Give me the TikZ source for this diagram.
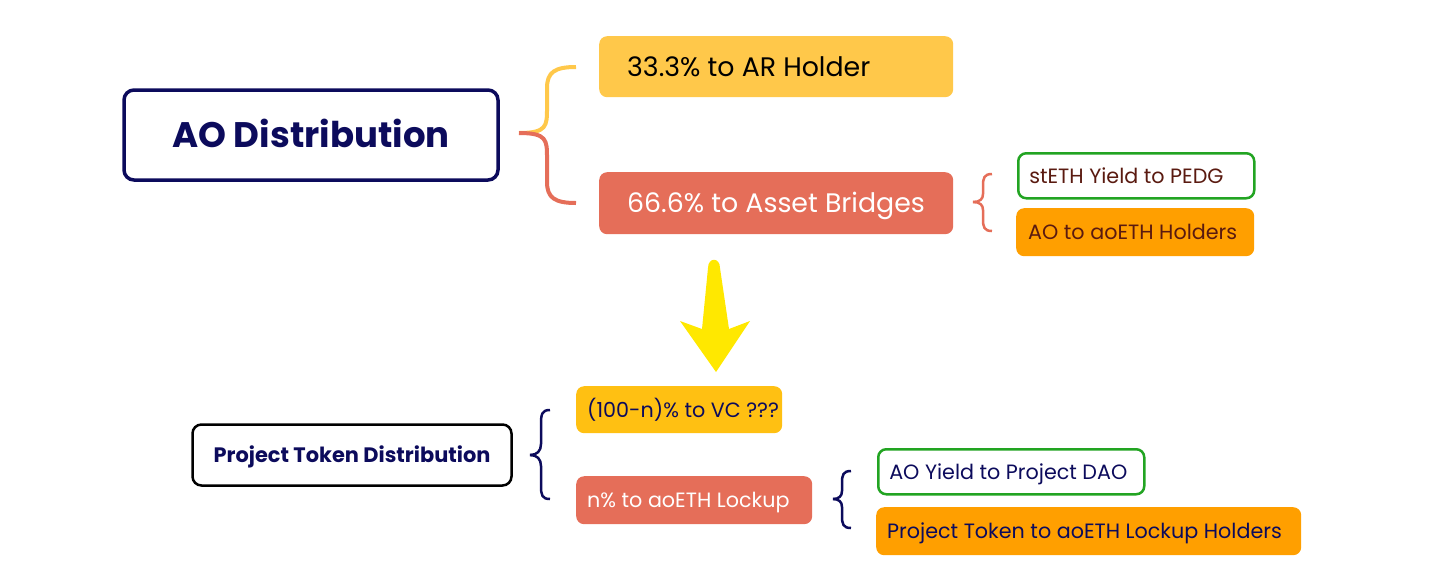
\documentclass[tikz,border=0pt]{standalone}
\usepackage{fontspec}
\setmainfont{Poppins}
\definecolor{navy}{HTML}{0C0B5C}
\definecolor{ylw}{HTML}{FFC84A}
\definecolor{ylw2}{HTML}{FFC012}
\definecolor{salmon}{HTML}{E56E59}
\definecolor{orng}{HTML}{FF9F00}
\definecolor{grn}{HTML}{22A422}
\definecolor{brwn}{HTML}{5A1A10}
\definecolor{arrowy}{HTML}{FFE800}
\tikzset{
  box/.style={rounded corners=8pt, inner ysep=0pt, anchor=north west, text depth=0pt},
  bigbox/.style={box, font=\fontsize{26.8}{30}\selectfont, text height=19.3pt},
  smallbox/.style={box, font=\fontsize{20.7}{24}\selectfont, text height=14.9pt},
}
\newcommand{\bx}[8]{% name, style, x1,y1,x2,y2, pad, text
  \pgfmathsetmacro{\bh}{#6-#4}\pgfmathsetmacro{\tw}{#5-#3-2*#7}
  \node[#2, minimum height=\bh pt, inner xsep=#7pt] (#1) at (#3,#4) {\makebox[\tw pt][l]{#8}};}
\begin{document}
\begin{tikzpicture}[x=1pt,y=-1pt]
\useasboundingbox (0,0) rectangle (1440,587);
% main box
\node[draw=navy, line width=3.5pt, rounded corners=10pt, minimum width=374pt, minimum height=90pt,
  font=\fontsize{35.5}{40}\selectfont\bfseries, text=navy, text height=25.6pt, text depth=0pt] (ao) at (311,135) {AO Distribution};
% big brace
\draw[ylw, line width=4pt] (519,133) .. controls (547,133) and (547,126) .. (547,108) -- (547,88) .. controls (547,72) and (555,67) .. (576,67);
\draw[salmon, line width=4pt] (519,133) .. controls (547,133) and (547,140) .. (547,158) -- (547,182) .. controls (547,198) and (555,203) .. (576,203);
% top boxes
\bx{ar}{bigbox, fill=ylw, text=black}{599}{36}{953}{97}{28}{33.3\% to AR Holder}
\bx{ab}{bigbox, fill=salmon, text=white}{599}{172}{953}{234}{28}{66.6\% to Asset Bridges}
% small brace right
\draw[salmon, line width=2.5pt] (992,174) .. controls (984,174) and (983,178) .. (983,186) -- (983,194) .. controls (983,199) and (980,202) .. (973,202);
\draw[salmon, line width=2.5pt] (992,231) .. controls (984,231) and (983,227) .. (983,219) -- (983,210) .. controls (983,205) and (980,202) .. (973,202);
\bx{st}{smallbox, draw=grn, line width=2.5pt, fill=white, text=brwn}{1017}{152}{1253}{197}{11}{stETH Yield to PEDG}
\bx{ah}{smallbox, fill=orng, text=brwn}{1016}{208}{1254}{256}{12}{AO to aoETH Holders}
% yellow arrow
\fill[arrowy] (708,268) .. controls (708,257) and (720,257) .. (720,268) -- (729,329) -- (750,321) -- (716,372) -- (680,321) -- (702,329) -- cycle;
% bottom
\node[draw=black, line width=2.5pt, rounded corners=9pt, minimum width=319pt, minimum height=61pt,
  font=\fontsize{20.9}{24}\selectfont\bfseries, text=navy, text height=15pt, text depth=0pt] (pt) at (352,455) {Project Token Distribution};
\draw[navy, line width=2.5pt] (550,410) .. controls (542,410) and (541,414) .. (541,424) -- (541,444) .. controls (541,451) and (537,455) .. (530,455);
\draw[navy, line width=2.5pt] (550,499) .. controls (542,499) and (541,495) .. (541,486) -- (541,466) .. controls (541,459) and (537,455) .. (530,455);
\bx{vc}{smallbox, fill=ylw2, text=navy}{576}{386}{782}{433}{11}{(100-n)\% to VC ???}
\bx{lk}{smallbox, fill=salmon, text=white}{576}{476}{812}{524}{11}{n\% to aoETH Lockup}
\draw[navy, line width=2.5pt] (851,471) .. controls (843,471) and (842,475) .. (842,483) -- (842,491) .. controls (842,496) and (839,499) .. (833,499);
\draw[navy, line width=2.5pt] (851,528) .. controls (843,528) and (842,524) .. (842,516) -- (842,507) .. controls (842,502) and (839,499) .. (833,499);
\bx{dao}{smallbox, draw=grn, line width=2.5pt, fill=white, text=navy}{877}{448}{1143}{493}{11}{AO Yield to Project DAO}
\bx{lh}{smallbox, fill=orng, text=navy}{876}{507}{1301}{555}{11}{Project Token to aoETH Lockup Holders}
\end{tikzpicture}
\end{document}
